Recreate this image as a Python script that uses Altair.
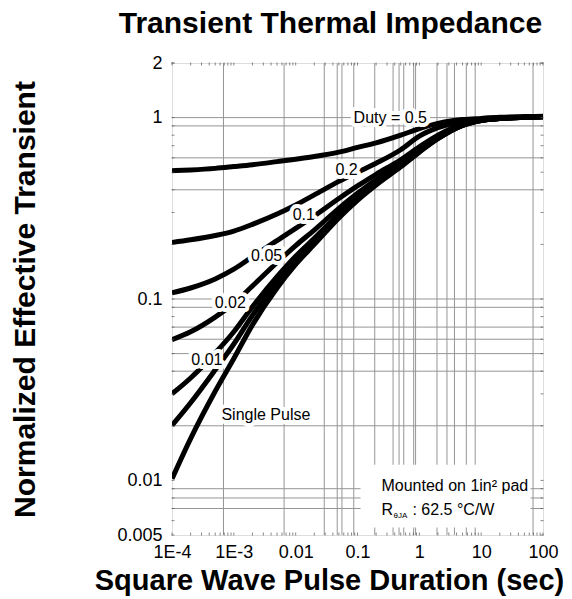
import altair as alt
import pandas as pd

FONT = "Liberation Sans"

# Pulse durations (s) at which each curve is sampled
pulse_s = [1e-4, 2e-4, 5e-4, 1e-3, 2e-3, 5e-3, 0.01, 0.02, 0.05, 0.1, 0.2, 0.5,
           1, 2, 5, 10, 20, 50, 100]

# Normalized effective transient thermal impedance per duty cycle
duty_050 = [0.51, 0.515, 0.525, 0.537, 0.55, 0.572, 0.59, 0.61, 0.645, 0.685, 0.725, 0.80,
            0.87, 0.93, 0.975, 0.99, 1.003, 1.012, 1.018]
duty_020 = [0.205, 0.212, 0.224, 0.237, 0.258, 0.294, 0.33, 0.375, 0.445, 0.50, 0.56, 0.665,
            0.79, 0.88, 0.952, 0.98, 0.995, 1.007, 1.014]
duty_010 = [0.108, 0.115, 0.129, 0.146, 0.171, 0.21, 0.245, 0.287, 0.358, 0.42, 0.487, 0.585,
            0.69, 0.80, 0.92, 0.969, 0.99, 1.004, 1.011]
duty_005 = [0.0597, 0.066, 0.0795, 0.0947, 0.118, 0.159, 0.197, 0.24, 0.316, 0.3825, 0.454,
            0.558, 0.663, 0.777, 0.91, 0.965, 0.989, 1.003, 1.01]
duty_002 = [0.030, 0.0367, 0.0504, 0.066, 0.0906, 0.1327, 0.172, 0.216, 0.294, 0.363, 0.4365,
            0.544, 0.652, 0.77, 0.907, 0.964, 0.988, 1.003, 1.01]
duty_001 = [0.0201, 0.0268, 0.0407, 0.0565, 0.0813, 0.1239, 0.1635, 0.208, 0.287, 0.3565, 0.431,
            0.54, 0.649, 0.767, 0.906, 0.963, 0.988, 1.003, 1.01]
single_pulse = [0.0102, 0.017, 0.031, 0.047, 0.072, 0.115, 0.155, 0.20, 0.28, 0.35, 0.425,
                0.535, 0.645, 0.765, 0.905, 0.963, 0.988, 1.003, 1.01]

series = {
    "0.5": duty_050, "0.2": duty_020, "0.1": duty_010, "0.05": duty_005,
    "0.02": duty_002, "0.01": duty_001, "single": single_pulse,
}

# Curve captions
curve_labels = ["Duty = 0.5", "0.2", "0.1", "0.05", "0.02", "0.01", "Single Pulse"]

# Axis ticks
x_tick_values = [1e-4, 1e-3, 0.01, 0.1, 1, 10, 100]
x_tick_labels = ["1E-4", "1E-3", "0.01", "0.1", "1", "10", "100"]
y_tick_values = [0.005, 0.01, 0.1, 1, 2]
y_tick_labels = ["0.005", "0.01", "0.1", "1", "2"]

# Printed grid lines of the original sheet
grid_x = [6.8e-4, 6.5e-3, 0.029, 0.047, 0.056, 0.087, 0.19, 0.376, 0.47, 0.56, 0.81, 0.87,
          1.93, 2.8, 3.7, 5.75, 8.0, 69]
grid_y = [1.0, 0.9, 0.6, 0.4, 0.1, 0.09, 0.07, 0.06, 0.05, 0.04, 0.02, 0.009, 0.008, 0.007]

# ---------------------------------------------------------------------------
W, H = 371, 472
xs = alt.Scale(type="log", domain=[1e-4, 100], nice=False)
ys = alt.Scale(type="log", domain=[0.005, 2], nice=False)


def label_expr(values, labels):
    expr = "''"
    for v, l in zip(values, labels):
        expr = f"abs(datum.value - {v!r}) < {v!r} * 0.001 ? '{l}' : ({expr})"
    return expr


x_axis = alt.Axis(
    values=x_tick_values, labelExpr=label_expr(x_tick_values, x_tick_labels),
    domain=False, ticks=False, grid=False, labelOverlap=False, labelFlush=False,
    labelFont=FONT, labelFontSize=18, labelColor="black", labelPadding=8,
    title="Square Wave Pulse Duration (sec)", titleFont=FONT, titleFontSize=29,
    titleFontWeight="bold", titleColor="black", titlePadding=5, titleX=157,
    titleAlign="center",
)
y_axis = alt.Axis(
    values=y_tick_values, labelExpr=label_expr(y_tick_values, y_tick_labels),
    domain=False, ticks=False, grid=False, labelOverlap=False, labelFlush=False,
    labelFont=FONT, labelFontSize=18, labelColor="black", labelPadding=10,
    title="Normalized Effective Transient", titleFont=FONT, titleFontSize=30,
    titleFontWeight="bold", titleColor="black", titlePadding=76,
)


def X(field):
    return alt.X(field, scale=xs, axis=x_axis)


def Y(field):
    return alt.Y(field, scale=ys, axis=y_axis)


curves = pd.DataFrame([
    {"t": t, "z": z, "curve": name}
    for name, vals in series.items() for t, z in zip(pulse_s, vals)
])

lines = alt.Chart(curves).mark_line(
    color="black", strokeWidth=5, interpolate="monotone", clip=True, strokeCap="butt"
).encode(x=X("t:Q"), y=Y("z:Q"), detail="curve:N")

vgrid = alt.Chart(pd.DataFrame({"gx": grid_x})).mark_rule(
    color="#959595", strokeWidth=1
).encode(x=X("gx:Q"))

hgrid = alt.Chart(pd.DataFrame({"gy": grid_y})).mark_rule(
    color="#959595", strokeWidth=1
).encode(y=Y("gy:Q"))

# Minor tick dots along the four edges of the frame
x_edge = [k * 10.0 ** n for n in range(-4, 2) for k in range(1, 10)] + [100.0]
y_edge = [k * 10.0 ** n for n in range(-3, 1) for k in range(1, 10)
          if 0.005 <= k * 10.0 ** n <= 2] + [2.0]
x_edge_df = pd.DataFrame({"ex": x_edge})
y_edge_df = pd.DataFrame({"ey": y_edge})

tick_style = dict(color="#555555", thickness=1, size=3)
top_ticks = alt.Chart(x_edge_df).mark_tick(orient="vertical", **tick_style).encode(
    x=X("ex:Q"), y=alt.value(1))
bottom_ticks = alt.Chart(x_edge_df).mark_tick(orient="vertical", **tick_style).encode(
    x=X("ex:Q"), y=alt.value(H - 1))
left_ticks = alt.Chart(y_edge_df).mark_tick(orient="horizontal", **tick_style).encode(
    y=Y("ey:Q"), x=alt.value(1))
right_ticks = alt.Chart(y_edge_df).mark_tick(orient="horizontal", **tick_style).encode(
    y=Y("ey:Q"), x=alt.value(W - 1))

# White panel behind the mounting note
note_box = alt.Chart(pd.DataFrame({"x0": [0.112], "x1": [63.0], "y0": [0.0055], "y1": [0.0122]})
                     ).mark_rect(color="white").encode(
    x=X("x0:Q"), x2="x1:Q", y=Y("y0:Q"), y2="y1:Q")

label_df = pd.DataFrame({
    "text": curve_labels,
    "lx": [0.339, 0.0664, 0.01355, 3.39e-3, 8.75e-4, 3.67e-4, 3.3e-3],
    "ly": [0.991, 0.516, 0.2915, 0.173, 0.0953, 0.0463, 0.0228],
})
label_halo = alt.Chart(label_df).mark_text(
    font=FONT, fontSize=16, stroke="white", strokeWidth=8, strokeJoin="round",
    fill="white", align="center", baseline="middle"
).encode(x=X("lx:Q"), y=Y("ly:Q"), text="text:N")
label_text = alt.Chart(label_df).mark_text(
    font=FONT, fontSize=16, color="black", align="center", baseline="middle"
).encode(x=X("lx:Q"), y=Y("ly:Q"), text="text:N")

# Mounting note: main text, subscript and the rest of the second line
note_df = pd.DataFrame({
    "text": ["Mounted on 1in\u00b2 pad", "R", "\u03b8JA", ": 62.5 \u00b0C/W"],
    "nx": [0.244, 0.244, 0.244, 0.244],
    "ny": [0.00933, 0.00687, 0.00687, 0.00687],
    "dx": [0, 0, 12, 31],
    "dy": [0, 0, 6, 0],
    "size": [16, 16, 8, 16],
})
note_layers = []
for i in range(len(note_df)):
    row = note_df.iloc[[i]]
    note_layers.append(
        alt.Chart(row).mark_text(
            font=FONT, fontSize=int(row["size"].iloc[0]), color="black", align="left",
            baseline="middle", dx=int(row["dx"].iloc[0]), dy=int(row["dy"].iloc[0])
        ).encode(x=X("nx:Q"), y=Y("ny:Q"), text="text:N")
    )

chart = alt.layer(
    vgrid, hgrid, note_box, lines,
    top_ticks, bottom_ticks, left_ticks, right_ticks,
    label_halo, label_text, *note_layers,
).properties(
    width=W, height=H,
    title=alt.TitleParams(
        "Transient Thermal Impedance", font=FONT, fontSize=30, fontWeight="bold",
        color="black", anchor="middle", dx=-27, offset=15,
    ),
    autosize=alt.AutoSizeParams(type="none"),
    padding={"left": 172, "top": 63, "right": 29, "bottom": 64},
).configure_view(stroke=None).configure(background="white")

chart.save("out.html", embed_options={"renderer": "svg", "actions": False})
